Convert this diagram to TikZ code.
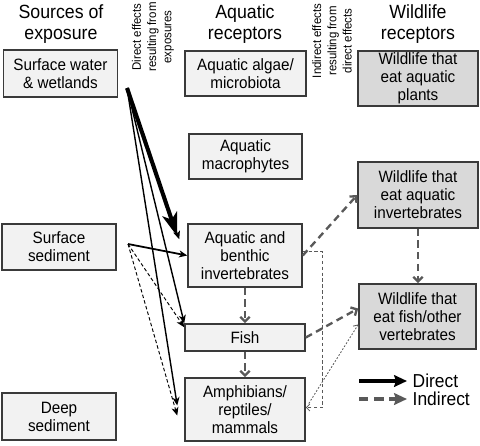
\documentclass[tikz,border=0pt]{standalone}
\usepackage{fontspec}
\setmainfont{Liberation Sans}[FakeStretch=0.93]
\usetikzlibrary{arrows.meta}
\usetikzlibrary{calc}
\usepackage{xcolor}

\definecolor{edgegray}{HTML}{3A3A3A}
\definecolor{lightbox}{HTML}{F2F2F2}
\definecolor{darkbox}{HTML}{D9D9D9}
\definecolor{indgray}{HTML}{595959}

\tikzset{
  box/.style={draw=edgegray, line width=1.3pt, fill=lightbox, align=center, inner sep=0pt, font=\fontsize{14}{15.4}\selectfont},
  wbox/.style={box, fill=darkbox},
  colhead/.style={align=center, font=\fontsize{16.3}{17.8}\selectfont},
  sidetext/.style={rotate=90, align=center, font=\fontsize{10.5}{13}\selectfont},
  direct/.style={black, line width=1.2pt, -{Stealth[length=7pt,width=6pt,inset=2pt]}},
  heavy/.style={black, line width=3.5pt, -{Stealth[length=20pt,width=13pt,inset=5pt]}},
  expo/.style={black, line width=0.8pt, dash pattern=on 3pt off 2pt, -{Stealth[length=7pt,width=6pt,inset=2pt]}},
  indirect/.style={indgray, line width=2pt, dash pattern=on 6pt off 4pt, -{Straight Barb[length=4pt,width=8pt]}},
  faint/.style={indgray, line width=0.7pt, dash pattern=on 3pt off 2pt, -{Straight Barb[length=3pt,width=6pt]}},
}

\begin{document}
\begin{tikzpicture}[x=0.03cm, y=-0.03cm]

      \fill[white] (0,0) rectangle (480,445);
      \useasboundingbox (0,0) rectangle (480,445);

      % Column headings
      \node[colhead] (hsrc) at (61,24) {Sources of\\exposure};
      \node[colhead] (haq) at (245,24) {Aquatic\\receptors};
      \node[colhead] (hwl) at (418,24) {Wildlife\\receptors};
      \node[sidetext] (sdir) at (153,37) {Direct effects\\resulting from\\exposures};
      \node[sidetext] (sind) at (332,41) {Indirect effects\\resulting from\\direct effects};

      % Sources
      \node[box, minimum width=3.42cm, minimum height=1.41cm] (sw) at (60.5,73.5) {Surface water\\\& wetlands};
      \node[box, minimum width=3.42cm, minimum height=1.38cm] (ss) at (59,247) {Surface\\sediment};
      \node[box, minimum width=3.42cm, minimum height=1.41cm] (ds) at (59,416.5) {Deep\\sediment};

      % Aquatic receptors
      \node[box, minimum width=3.63cm, minimum height=1.35cm] (alg) at (245.5,73.5) {Aquatic algae/\\microbiota};
      \node[box, minimum width=3.39cm, minimum height=1.35cm] (mac) at (245.5,156.5) {Aquatic\\macrophytes};
      \node[box, minimum width=3.42cm, minimum height=1.89cm] (inv) at (245,255.5) {Aquatic and\\benthic\\invertebrates};
      \node[box, minimum width=3.6cm, minimum height=0.81cm] (fish) at (245,337.5) {Fish};
      \node[box, minimum width=3.6cm, minimum height=1.89cm] (amph) at (245,409.5) {Amphibians/\\reptiles/\\mammals};

      % Wildlife receptors
      \node[wbox, minimum width=3.6cm, minimum height=1.65cm] (wpl) at (418,78.5) {Wildlife that\\eat aquatic\\plants};
      \node[wbox, minimum width=3.6cm, minimum height=1.98cm] (winv) at (418,195) {Wildlife that\\eat aquatic\\invertebrates};
      \node[wbox, minimum width=3.51cm, minimum height=1.95cm] (wfi) at (417.5,316.5) {Wildlife that\\eat fish/other\\vertebrates};

      % Direct effects
      \coordinate (swo) at (127,88);
      \coordinate (sso) at (128,244);
      \draw[heavy] (swo) -- ($(inv.north west)+(-10,13)$);
      \draw[direct, line width=0.8pt] (swo) -- ($(inv.north west)+(-8,16)$);
      \draw[direct] (swo) -- (fish.north west);
      \draw[direct] (swo) -- ($(amph.west)+(-7,-4)$);
      \draw[direct, line width=1.5pt] (sso) -- (inv.west);
      \draw[expo] (sso) -- ($(fish.north west)+(0,4)$);
      \draw[expo] (sso) -- ($(amph.west)+(-7,6)$);

      % Indirect effects
      \foreach \a/\b in {inv/fish, fish/amph, winv/wfi}
      {
        \draw[indirect] (\a.south) -- (\a.south |- \b.north);
      }
      \draw[indirect] (inv.east) -- (winv.west);
      \draw[indirect] (fish.east) -- ($(wfi.west)+(0,-8)$);
      \draw[faint] ($(inv.east)+(0,-4)$) -- ++(20,0) |- ($(amph.east)+(0,-2)$);
      \draw[faint, dash pattern=on 1.5pt off 1.5pt] ($(amph.east)+(3,-6)$) -- ($(wfi.west)+(0,8)$);

      % Legend
      \coordinate (ldir) at (359,381);
      \coordinate (lind) at (359,399);
      \draw[black, line width=3pt, -{Stealth[length=11pt,width=10pt,inset=1.5pt]}] (ldir) -- ++(48,0)
        node[right, font=\fontsize{16}{19}\selectfont] (tdir) {Direct};
      \draw[indgray, line width=3pt, dash pattern=on 8pt off 5pt, -{Stealth[length=11pt,width=10pt,inset=1.5pt]}] (lind) -- ++(48,0)
        node[right, black, font=\fontsize{16}{19}\selectfont] (tind) {Indirect};
\end{tikzpicture}
\end{document}
